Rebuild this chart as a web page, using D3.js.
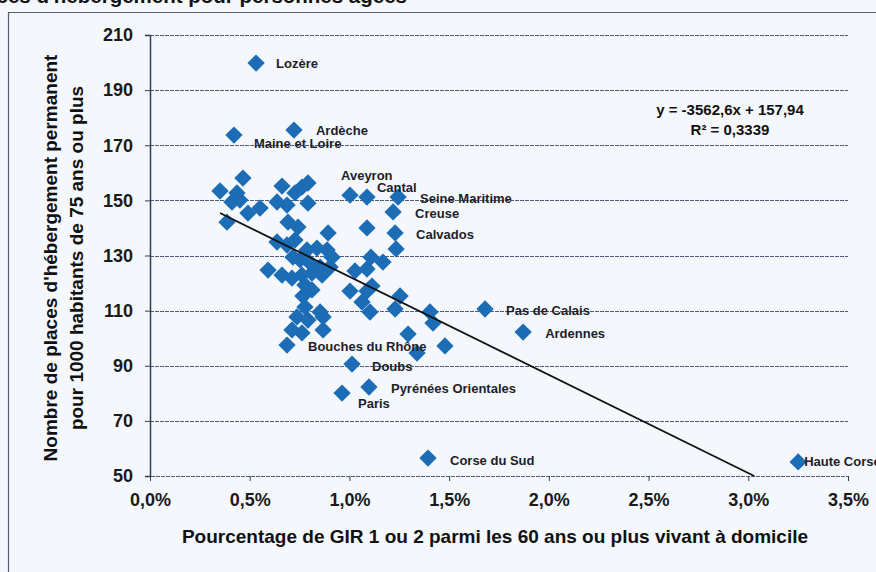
<!DOCTYPE html>
<html>
<head>
<meta charset="utf-8">
<script src="https://cdn.jsdelivr.net/npm/d3@7"></script>
<style>
  html, body { margin: 0; padding: 0; background: #f4f7fb; }
  svg { display: block; }
</style>
</head>
<body>
<svg id="chart" width="876" height="572"></svg>
<script>
// ---------- DATA ----------
const xTickValues = [0, 0.5, 1.0, 1.5, 2.0, 2.5, 3.0, 3.5];
const yTickValues = [50, 70, 90, 110, 130, 150, 170, 190, 210];

// unlabeled departments: % GIR 1-2 at home (x), places per 1000 aged 75+ (y)
const pointX = [
  0.351, 0.466, 0.436, 0.411, 0.451, 0.491, 0.552, 0.386, 0.662, 0.637,
  0.687, 0.727, 0.762, 0.792, 0.792, 0.692, 0.742, 0.893,
  0.637, 0.687, 0.727, 0.787, 0.837, 0.888, 0.913, 0.717, 0.752, 0.802,
  0.853, 0.903, 0.592, 0.662, 0.712, 0.762, 0.812, 0.863, 0.777, 0.812,
  0.767, 0.777, 0.737, 0.792, 0.868, 0.853, 0.712, 0.762, 0.868,
  1.088, 1.234, 1.108, 1.168, 1.028, 1.088, 1.003, 1.088, 1.113, 1.063,
  1.103, 1.254, 1.229, 1.404, 1.419, 1.294, 1.339, 1.479
];
const pointY = [
  153.4, 158.1, 152.7, 149.4, 150.1, 145.4, 147.2, 142.1, 155.2, 149.4,
  148.3, 152.7, 154.8, 156.3, 149.0, 142.1, 140.3, 138.2,
  134.9, 133.8, 135.6, 132.0, 132.7, 132.0, 129.4, 129.4, 128.4, 127.3,
  125.8, 125.8, 124.7, 122.9, 121.8, 122.9, 123.6, 122.9, 119.3, 117.5,
  115.3, 111.3, 107.7, 106.6, 107.7, 109.5, 103.0, 101.9, 103.0,
  140.0, 132.4, 129.4, 127.6, 124.4, 125.1, 117.1, 117.1, 118.9, 113.1,
  109.5, 115.3, 110.6, 109.5, 105.5, 101.5, 94.6, 97.2
];

// labeled departments
const labelNames = ["Lozère", "Ardèche", "Maine et Loire", "Aveyron", "Cantal",
  "Seine Maritime", "Creuse", "Calvados", "Pas de Calais", "Ardennes",
  "Bouches du Rhône", "Doubs", "Pyrénées Orientales", "Paris", "Corse du Sud", "Haute Corse"];
const labelX = [0.532, 0.722, 0.421, 1.003, 1.088, 1.244, 1.219, 1.229, 1.680, 1.871,
  0.687, 1.013, 1.098, 0.963, 1.394, 3.250];
const labelY = [199.8, 175.5, 173.7, 151.9, 151.2, 151.2, 145.8, 138.2, 110.6, 102.2,
  97.5, 90.6, 82.3, 80.1, 56.5, 55.1];

// regression
const slope = -3562.6, intercept = 157.94;
const equationLines = ["y = -3562,6x + 157,94", "R² = 0,3339"];

const titleText = "Places d'hébergement pour personnes âgées";
const xTitle = "Pourcentage de GIR 1 ou 2 parmi les 60 ans ou plus vivant à domicile";
const yTitleLines = ["Nombre de places d'hébergement permanent", "pour 1000 habitants de 75 ans ou plus"];

// label placement offsets (layout, px)
const labelOffsets = {
  "Lozère": [20, 0], "Ardèche": [22, 0], "Maine et Loire": [20, 8], "Aveyron": [-9, -20],
  "Cantal": [10, -10], "Seine Maritime": [22, 1], "Creuse": [22, 1], "Calvados": [21, 2],
  "Pas de Calais": [21, 1], "Ardennes": [22, 1], "Bouches du Rhône": [21, 1], "Doubs": [20, 2],
  "Pyrénées Orientales": [22, 1], "Paris": [16, 10], "Corse du Sud": [22, 2], "Haute Corse": [6, 0]
};

// ---------- DRAW ----------
(function () {
const svg = d3.select("#chart");
const font = "'Liberation Sans', Arial, sans-serif";
const pL = 150, pR = 848, pT = 35, pB = 476;
const x = d3.scaleLinear().domain([0, 3.5]).range([pL, pR]);
const y = d3.scaleLinear().domain([50, 210]).range([pB, pT]);

svg.append("rect").attr("width", 876).attr("height", 572).attr("fill", "#f4f7fb");

// cut-off title at top
svg.append("text").attr("x", 407).attr("y", 3).attr("text-anchor", "end")
  .attr("font-family", font).attr("font-weight", "bold").attr("font-size", 20.5)
  .attr("fill", "#111").text(titleText);

// chart frame
svg.append("path").attr("d", "M8.5,580 V12.5 H880")
  .attr("fill", "none").attr("stroke", "#56606e").attr("stroke-width", 1.2);

// gridlines
svg.append("g").selectAll("line").data(yTickValues.filter(v => v !== 50)).join("line")
  .attr("x1", pL).attr("x2", pR)
  .attr("y1", d => Math.round(y(d)) + 0.5).attr("y2", d => Math.round(y(d)) + 0.5)
  .attr("stroke", "#4f5f78").attr("stroke-width", 1).attr("stroke-dasharray", "4,1");

// y axis
const yAxis = svg.append("g").attr("transform", `translate(${pL},0)`)
  .call(d3.axisLeft(y).tickValues(yTickValues).tickSize(5).tickPadding(12).tickFormat(d3.format("d")));
yAxis.select(".domain").attr("stroke", "#2e3e58").attr("stroke-width", 1.5);
yAxis.selectAll(".tick line").attr("stroke", "#2e3e58");
yAxis.selectAll("text").attr("font-family", font).attr("font-weight", "bold")
  .attr("font-size", 18).attr("fill", "#1a1a1a");

// x axis
const fmtPct = d => d.toFixed(1).replace(".", ",") + "%";
const xAxis = svg.append("g").attr("transform", `translate(0,${pB})`)
  .call(d3.axisBottom(x).tickValues(xTickValues).tickSize(5).tickPadding(12).tickFormat(fmtPct));
xAxis.select(".domain").attr("stroke", "#4f5f78").attr("stroke-dasharray", "4,1");
xAxis.selectAll(".tick line").attr("stroke", "#2e3e58");
xAxis.selectAll("text").attr("font-family", font).attr("font-weight", "bold")
  .attr("font-size", 18).attr("fill", "#1a1a1a");

// axis titles
svg.append("text").attr("x", 495).attr("y", 543).attr("text-anchor", "middle")
  .attr("font-family", font).attr("font-weight", "bold").attr("font-size", 19)
  .attr("fill", "#111").text(xTitle);
yTitleLines.forEach((t, i) => {
  svg.append("text").attr("transform", `translate(${57 + i * 26},${258}) rotate(-90)`)
    .attr("text-anchor", "middle").attr("font-family", font).attr("font-weight", "bold")
    .attr("font-size", 19).attr("fill", "#111").text(t);
});

// points
const diamond = d3.symbol(d3.symbolSquare, 150);
const color = "#1c6db6";
const unl = pointX.map((v, i) => ({ x: v, y: pointY[i] }));
const lab = labelNames.map((n, i) => ({ name: n, x: labelX[i], y: labelY[i] }));
svg.append("g").selectAll("path").data(unl.concat(lab)).join("path")
  .attr("d", diamond)
  .attr("transform", d => `translate(${x(d.x)},${y(d.y)}) rotate(45)`)
  .attr("fill", color);

// trend line
const xStart = d3.min(pointX.concat(labelX));
const xEnd = (50 - intercept) / slope * 100;
const trend = [xStart, xEnd].map(v => ({ x: v, y: slope * v / 100 + intercept }));
svg.append("path").datum(trend)
  .attr("d", d3.line().x(d => x(d.x)).y(d => y(d.y)))
  .attr("stroke", "#111").attr("stroke-width", 1.8).attr("fill", "none");

// labels
svg.append("g").selectAll("text").data(lab).join("text")
  .attr("x", d => x(d.x) + labelOffsets[d.name][0])
  .attr("y", d => y(d.y) + labelOffsets[d.name][1])
  .attr("dy", "0.35em")
  .attr("font-family", font).attr("font-weight", "bold").attr("font-size", 13)
  .attr("fill", "#1e1e2a").text(d => d.name);

// equation
equationLines.forEach((t, i) => {
  svg.append("text").attr("x", 730).attr("y", 115 + i * 20).attr("text-anchor", "middle")
    .attr("font-family", font).attr("font-weight", "bold").attr("font-size", 15)
    .attr("fill", "#111").text(t);
});
})();
</script>
</body>
</html>
